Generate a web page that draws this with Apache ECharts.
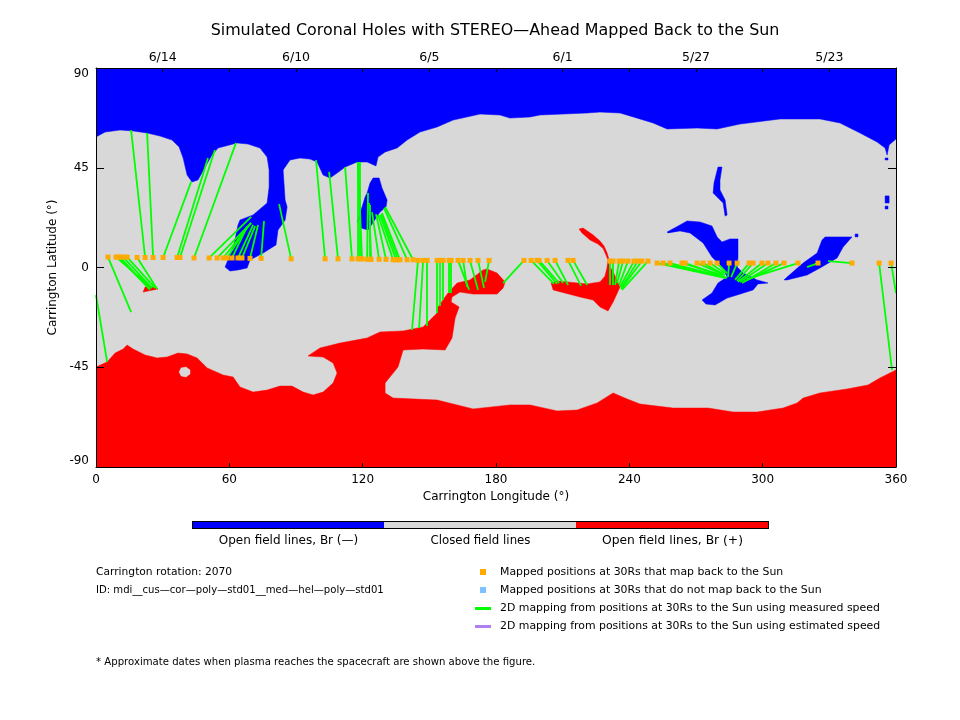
<!DOCTYPE html>
<html><head><meta charset="utf-8">
<style>html,body{margin:0;padding:0;background:#fff}#c{width:960px;height:720px}</style>
<script src="https://cdn.jsdelivr.net/npm/echarts@6/dist/echarts.min.js"></script>
</head><body><div id="c"></div>
<script>
const northOpen=[[0,58.9],[4.1,61.1],[10.8,62],[16.7,61.6],[23,60.7],[28.8,59.3],[34.2,57.5],[37.4,54.4],[39.2,49.4],[41,41.7],[43.2,38.6],[45.9,39.5],[49.1,45.3],[52.2,50.7],[54.9,53.9],[63.5,56.2],[68.4,55.7],[73.8,53.9],[77,49.8],[77.9,44],[77.9,36.3],[77,29.1],[70.7,23.7],[64.8,21.4],[63.9,19.2],[62.1,10.2],[59,2.5],[58.1,0.2],[60.3,-1.6],[63.9,-1.1],[68,-0.2],[69.3,3.4],[75.2,6.5],[81,10.2],[81.9,16.9],[85.1,21.4],[86,27.3],[85.1,30.4],[84.2,44],[87.3,48.5],[91.8,49.4],[96.3,48.9],[99.5,47.6],[102.2,41.7],[105.3,40.4],[108.5,42.6],[112.1,45.3],[117.5,47.6],[122,47.6],[126,45.8],[126.9,49.8],[130.1,52.1],[135.5,53.9],[140,57.5],[145.8,61.1],[153.5,63.4],[160.7,66.5],[172.8,69.2],[181.8,68.8],[186.3,67.4],[195.3,67.9],[199.8,68.8],[221,69.7],[226.8,70.1],[235.8,69.7],[244.8,67],[250.7,65.2],[257,62.5],[270.5,62.9],[279.5,62.5],[289.8,64.7],[307.8,67],[325.8,67],[334.8,65.2],[343.8,60.7],[351.5,56.6],[355.1,53.9],[356,50.7],[356.9,55.3],[360,58],[360,90],[0,90]];
const blueCentre=[[124.7,40.4],[127.4,40.4],[128.7,35.9],[131,30.4],[130.5,27.3],[127.8,25],[122.4,16.9],[119.3,17.8],[118.8,22.3],[117.5,20.5],[119.3,25.9],[121.1,31.8],[122,33.6],[123.3,38.1]];
const blueThin=[[279.9,45.3],[281.7,45.3],[280.8,39.5],[280.8,35],[283.1,30.4],[284,23.7],[283.1,23.2],[282.2,29.1],[277.7,33.6],[278.1,38.1]];
const blueStar=[[257,16],[262.8,19.2],[266,21],[271.8,20.5],[277.2,18.7],[279.5,13.8],[281.7,11.5],[285.3,12.9],[288.9,12.9],[288.9,4.7],[288.5,0.2],[291.2,-2.5],[297.5,-5.6],[302.4,-7],[297.9,-7.4],[295.7,-10.1],[288.5,-12.4],[284,-13.8],[278.6,-16.9],[274.5,-16.5],[272.7,-14.7],[277.2,-11.5],[279.9,-7],[284,-4.3],[282.2,-0.2],[277.2,4.7],[273.2,11.1],[267.3,15.6],[262.8,16.5],[257.4,15.6]];
const blueRight=[[309.6,-5.6],[311,-4.3],[318.2,2],[324.5,6.5],[326.7,12.4],[328.1,13.8],[340.2,13.8],[336.2,9.2],[333.5,4.3],[325.8,-0.2],[320,-3.4],[311,-5.6]];
const blueSpeckA=[[341.6,15.1],[342.9,15.1],[342.9,13.8],[341.6,13.8]];
const blueSpeckB=[[355.1,32.3],[356.9,32.3],[356.9,29.1],[355.1,29.1]];
const blueSpeckC=[[355.1,27.7],[356.4,27.7],[356.4,26.4],[355.1,26.4]];
const blueSpeckD=[[355.1,49.4],[356.4,49.4],[356.4,48.5],[355.1,48.5]];
const southOpen=[[0,-44.9],[5,-42.6],[8.6,-38.6],[12.2,-36.8],[14,-35],[16.7,-36.8],[22.1,-39.5],[27.5,-40.8],[32,-40.4],[36.9,-38.6],[41,-39],[45.5,-40.8],[50,-45.3],[57.2,-48.5],[61.7,-49.4],[64.8,-53.9],[70.7,-56.2],[77,-55.3],[82.8,-53.5],[88.2,-53.5],[93.2,-56.2],[97.7,-57.5],[102.2,-56.2],[106.7,-52.1],[108.5,-47.6],[106.7,-43.1],[102.2,-40.4],[95.4,-39.9],[100.8,-36.3],[109.8,-34.1],[122,-31.8],[127.8,-29.1],[138.2,-28.6],[147.2,-26.8],[153.5,-20.5],[153.9,-17.8],[158.4,-11.5],[162.5,-7],[168.3,-5.6],[174.2,-1.1],[176,-0.7],[180.5,-2.5],[184.1,-6.5],[183.2,-9.2],[180.5,-12],[169.7,-12],[163.8,-11.1],[160.2,-13.3],[159.8,-15.6],[163.4,-17.8],[161.6,-22.8],[160.2,-31.8],[157.1,-37.2],[147.2,-36.8],[138.2,-37.2],[135.9,-44.9],[130.1,-52.1],[130.1,-56.6],[133.7,-58.9],[153.5,-59.8],[169.7,-63.8],[186.3,-62],[195.3,-62],[207.5,-64.7],[216.5,-64.3],[225.5,-61.1],[232.7,-56.6],[239,-59.3],[244.8,-61.6],[259.7,-63.4],[275.4,-63.4],[286.7,-65.2],[297.5,-65.2],[309.2,-63.4],[315.5,-61.1],[318.2,-58.9],[325.8,-56.6],[338,-54.8],[347.4,-53],[352.8,-49.8],[360,-46.2],[360,-90],[0,-90]];
const closedHole=[[37.4,-47.1],[38.3,-45.3],[40.5,-44.9],[42.3,-46.2],[42.3,-48],[40.5,-49.4],[38.3,-48.9]];
const redSmall=[[21.2,-11.1],[22.1,-8.8],[25.7,-8.8],[27.9,-9.7],[23.4,-10.6]];
const redSliver=[[18.9,-3.4],[24.3,-8.3],[23.4,-8.8]];
const redMiddle=[[204.8,-7],[207.5,-6.1],[212,-6.5],[221,-7.4],[226.8,-6.5],[229,-4],[229.9,-0.5],[230.4,3.4],[229.5,5.6],[228.2,8.6],[225.9,10.6],[222.3,12.4],[218.7,15.6],[217.4,17.4],[219.2,17.8],[223.7,14.7],[226.8,12],[228.6,9.7],[230,6.5],[230.9,3.4],[230.9,1.1],[232.7,-2],[235.8,-8.8],[232.7,-15.6],[230.4,-19.6],[226.8,-17.8],[223.7,-14.7],[217.8,-13.3],[205.7,-10.1]];

const mappedLon=[5.4,9,9.9,10.8,12.2,14,18.5,22.1,25.7,30.2,36.5,37.8,44.1,50.9,54.5,57.2,59,61.2,63.9,65.7,69.3,74.3,87.8,103.1,108.9,115.2,117.9,118.8,119.7,122,123.3,123.8,127.4,130.5,133.7,135,135.9,136.8,140,142.7,144.9,147.2,149,153.5,154.8,156.2,158.9,159.8,162.9,165.2,168.3,171.9,176.9,192.6,195.8,198.5,199.4,203,206.6,212.4,214.7,231.3,232.7,235.4,237.2,239.4,242.1,243.9,245.7,248.4,252.5,255.2,258.3,263.7,265.1,270.5,273.2,276.3,279.5,284.9,288.5,293.9,295.7,299.7,302.4,306,309.6,315.9,324.9,340.2,352.4,357.8];
const mappedLat=[4.7,4.7,4.7,4.7,4.7,4.7,4.5,4.5,4.5,4.5,4.5,4.5,4.3,4.3,4.3,4.3,4.3,4.3,4.3,4.3,4.1,4.1,3.9,3.9,3.9,3.9,3.9,3.9,3.9,3.7,3.7,3.7,3.7,3.7,3.5,3.5,3.5,3.5,3.5,3.5,3.2,3.2,3.2,3.2,3.2,3.2,3.2,3.2,3.2,3.2,3.2,3.2,3.2,3.2,3.2,3.2,3.2,3.2,3.2,3.2,3.2,2.9,2.9,2.9,2.9,2.9,2.9,2.9,2.9,2.9,2,2,2,2,2,2,2,2,2,2,2,2,2,2,2,2,2,2,2,2,2,2];
const sunLon=[15.8,25.2,24.3,24.3,25.2,26.6,27.5,15.8,23,42.8,50.4,53.5,63,69.8,69.8,69.8,68,68,70.7,71.6,72.9,75.6,82.4,99,104.9,112.1,117.9,118.8,117.9,122.4,123.3,122.9,124.2,126,126.9,127.8,128.3,128.7,129.6,130.1,142.2,145.4,149,153.5,154.8,156.2,158.9,159.8,167.9,167,171.9,174.6,175.1,183.2,206.1,207.5,208.4,210.2,212.4,218.3,221,231.3,232.7,233.6,234.5,235.4,235.8,236.3,236.3,236.7,283.1,283.5,284,282,283,282.5,283,282.9,284,284.4,285.8,287.6,288.5,288.9,289.8,290.7,291.2,292.9,320,329.4,358.2,360];
const sunLat=[-20.1,-9.2,-9.7,-10.1,-9.2,-9.2,-9.7,62,60.7,38.6,49.4,53,56.2,22.8,20.1,20.1,18.3,18.3,19.2,18.7,19.2,21,28.6,48.5,43.1,45.3,47.6,47.6,47.6,33.6,28.2,29.1,25,24.1,23.7,23.7,24.1,24.6,26.8,27.3,-28.2,-27.3,-26.4,-20.5,-17.4,-14.7,-11.5,-11.5,-10.1,-8.8,-10.1,-9.2,-6.5,-7,-7.4,-7.4,-7,-7,-7.9,-8.3,-7.9,-7.9,-7.9,-7.9,-7,-7.9,-8.8,-9.2,-9.7,-10.1,-4.7,-4.7,-4.7,-3.5,-4.2,-3.2,-3.4,-2.5,-2.7,-4.3,-4.3,-5.6,-6.1,-6.5,-6.5,-7,-6.5,-5.2,0.2,2.9,-46.2,-11.5];
const wrapLon=[0,5];
const wrapLat=[-12.4,-42.6];

const topTickLon=[30,90,150,210,270,330];
const topTickLabels=['6/14','6/10','6/5','6/1','5/27','5/23'];

const BLUE='#0000ff',RED='#ff0000',GREY='#d8d8d8',GREEN='#00ff00',ORANGE='#ffaa00',SKY='#80c0ff',PURPLE='#b080f0';
const FONT='"DejaVu Sans"';

function poly(name,pts,color,z){
  return {name,type:'custom',coordinateSystem:'cartesian2d',z,silent:true,clip:true,data:pts,
    renderItem(p,api){
      if(p.dataIndex!==0)return null;
      return {type:'polygon',shape:{points:pts.map(q=>api.coord(q))},style:{fill:color,stroke:color,lineWidth:0.5}};
    }};
}
const segs=mappedLon.map((v,i)=>({coords:[[v,mappedLat[i]],[sunLon[i],sunLat[i]]]}));
segs.push({coords:[[wrapLon[0],wrapLat[0]],[wrapLon[1],wrapLat[1]]]});

const series=[
  poly('north',northOpen,BLUE,2),
  poly('south',southOpen,RED,2),
  poly('hole',closedHole,GREY,3),
  poly('bc',blueCentre,BLUE,3),poly('bt',blueThin,BLUE,3),poly('bs',blueStar,BLUE,3),poly('br',blueRight,BLUE,3),
  poly('sa',blueSpeckA,BLUE,3),poly('sb',blueSpeckB,BLUE,3),poly('sc',blueSpeckC,BLUE,3),poly('sd',blueSpeckD,BLUE,3),
  poly('rs',redSmall,RED,3),poly('rl',redSliver,RED,3),poly('rm',redMiddle,RED,3),
  {name:'mapping',type:'lines',coordinateSystem:'cartesian2d',z:5,silent:true,polyline:false,
    lineStyle:{color:GREEN,width:1.8,opacity:1},data:segs},
  {name:'mapped',type:'scatter',z:6,silent:true,symbol:'rect',symbolSize:5,
    itemStyle:{color:ORANGE,opacity:1},data:mappedLon.map((v,i)=>[v,mappedLat[i]])}
];

function txt(text,x,y,size,align){
  return {type:'text',x,y,z:20,silent:true,style:{text,font:size+'px '+FONT,fill:'#000',align:align||'left',verticalAlign:'middle'}};
}
function rect(x,y,w,h,fill){return {type:'rect',z:20,silent:true,shape:{x,y,width:w,height:h},style:{fill}};}
const graphic=[
  txt('Simulated Coronal Holes with STEREO\u2014Ahead Mapped Back to the Sun',495,31,15.9,'center'),
  rect(192,521,577,8,'#000'),
  rect(193,522,191,6,BLUE),rect(384,522,192,6,GREY),rect(576,522,192,6,RED),
  txt('Open field lines, Br (\u2014)',288.5,541,12,'center'),
  txt('Closed field lines',480.5,541,11.8,'center'),
  txt('Open field lines, Br (+)',672.5,541,12.3,'center'),
  txt('Carrington rotation: 2070',96,572,10.7),
  txt('ID: mdi__cus\u2014cor\u2014poly\u2014std01__med\u2014hel\u2014poly\u2014std01',96,590,10.1),
  txt('* Approximate dates when plasma reaches the spacecraft are shown above the figure.',96,662,10.15),
  rect(480,569,6,6,ORANGE),rect(480,587,6,6,SKY),rect(475,607,16,3,GREEN),rect(475,625,16,3,PURPLE),
  txt('Mapped positions at 30Rs that map back to the Sun',500,572,10.9),
  txt('Mapped positions at 30Rs that do not map back to the Sun',500,590,10.9),
  txt('2D mapping from positions at 30Rs to the Sun using measured speed',500,608,10.9),
  txt('2D mapping from positions at 30Rs to the Sun using estimated speed',500,626,10.9)
];
const axLine={show:true,onZero:false,lineStyle:{color:'#000',width:1}};
const lab={color:'#000',fontFamily:FONT,fontSize:12};
const nameSt={color:'#000',fontFamily:FONT,fontSize:12};
const option={
  animation:false,backgroundColor:'#fff',
  grid:{left:96,right:64,top:68,bottom:253,show:true,backgroundColor:GREY,borderWidth:0,containLabel:false},
  xAxis:[
    {type:'value',position:'bottom',min:0,max:360,interval:60,z:10,splitLine:{show:false},axisLine:axLine,
     axisTick:{inside:true,length:4,lineStyle:{color:'#000'}},axisLabel:{...lab,margin:7,showMinLabel:true,showMaxLabel:true},
     name:'Carrington Longitude (\u00b0)',nameLocation:'middle',nameGap:20,nameTextStyle:nameSt},
    {type:'value',position:'top',min:0,max:360,interval:30,z:10,splitLine:{show:false},axisLine:axLine,
     axisTick:{inside:true,length:4,lineStyle:{color:'#000'}},
     axisLabel:{...lab,fontSize:12.5,margin:4,formatter:v=>{const i=topTickLon.indexOf(v);return i<0?'':topTickLabels[i];}}}
  ],
  yAxis:[
    {type:'value',position:'left',min:-90,max:90,interval:45,z:10,splitLine:{show:false},axisLine:axLine,
     axisTick:{inside:true,length:8,lineStyle:{color:'#000'}},axisLabel:{...lab,margin:7,verticalAlignMinLabel:'bottom',verticalAlignMaxLabel:'top'},
     name:'Carrington Latitude (\u00b0)',nameLocation:'middle',nameGap:36,nameTextStyle:nameSt},
    {type:'value',position:'right',min:-90,max:90,interval:45,z:10,splitLine:{show:false},axisLine:axLine,
     axisTick:{inside:true,length:8,lineStyle:{color:'#000'}},axisLabel:{show:false}}
  ],
  series,graphic
};
const chart=echarts.init(document.getElementById('c'),null,{renderer:'canvas',width:960,height:720});
chart.setOption(option);
</script></body></html>
